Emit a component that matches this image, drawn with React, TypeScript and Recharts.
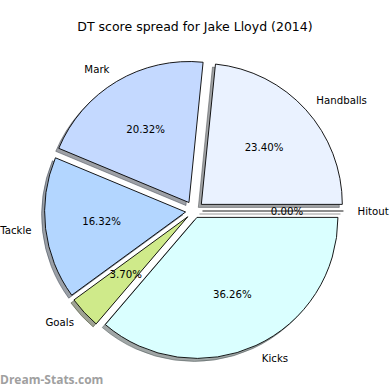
import { PieChart, Pie, Cell } from "recharts";

const categories = ["Hitout", "Handballs", "Mark", "Tackle", "Goals", "Kicks"];
const shares = [0, 23.4, 20.32, 16.32, 3.7, 36.26];
const sliceColors = ["#ffffff", "#eaf2ff", "#c4d9ff", "#b3d6ff", "#cfea8a", "#daffff"];

// how far each wedge is pulled out, as a fraction of the radius
const explode = [0.06, 0.07, 0.07, 0.06, 0.06, 0.05];

const W = 390;
const H = 390;
const CX = 194;
const CY = 211;
const R = 141;
const SHADOW = 3;
const RAD = Math.PI / 180;
const FONT = "'DejaVu Sans', Verdana, sans-serif";

const data = categories.map((name, i) => ({ name, value: shares[i] }));
const total = shares.reduce((a, b) => a + b, 0);

const midAngles = shares.map((v, i) => {
  const before = shares.slice(0, i).reduce((a, b) => a + b, 0);
  return ((before + v / 2) / total) * 360;
});

const shadowColor = (hex: string) => {
  const n = parseInt(hex.slice(1), 16);
  const r = Math.round(((n >> 16) & 255) * 0.3);
  const g = Math.round(((n >> 8) & 255) * 0.3);
  const b = Math.round((n & 255) * 0.3);
  return `rgb(${r},${g},${b})`;
};

const offsetFor = (i: number) => {
  const a = midAngles[i] * RAD;
  const d = explode[i] * R;
  return { dx: d * Math.cos(a), dy: -d * Math.sin(a) };
};

const SliceLabel = (props: any, i: number) => {
  if (props.index !== i) return null;
  const { cx, cy, midAngle, outerRadius } = props;
  const cos = Math.cos(midAngle * RAD);
  const sin = Math.sin(midAngle * RAD);
  const lx = cx + outerRadius * 1.1 * cos;
  const ly = cy - outerRadius * 1.1 * sin;
  const px = cx + outerRadius * 0.6 * cos;
  const py = cy - outerRadius * 0.6 * sin;
  const zero = shares[i] === 0;
  return (
    <g>
      {zero && (
        <>
          <line
            x1={cx - SHADOW}
            y1={cy + SHADOW}
            x2={cx - SHADOW + outerRadius * cos}
            y2={cy + SHADOW - outerRadius * sin}
            stroke="#999"
            strokeWidth={1}
          />
          <line
            x1={cx}
            y1={cy}
            x2={cx + outerRadius * cos}
            y2={cy - outerRadius * sin}
            stroke="#000"
            strokeWidth={0.9}
          />
        </>
      )}
      <text
        x={px}
        y={py}
        textAnchor="middle"
        dominantBaseline="central"
        fontSize={10.2}
        fontFamily={FONT}
        fill="#000"
      >
        {shares[i].toFixed(2)}%
      </text>
      <text
        x={lx}
        y={ly}
        textAnchor={cos >= 0 ? "start" : "end"}
        dominantBaseline="central"
        fontSize={10.2}
        fontFamily={FONT}
        fill="#000"
      >
        {categories[i]}
      </text>
    </g>
  );
};

export default function App() {
  return (
    <div style={{ position: "fixed", left: 0, top: 0, width: W, height: H, background: "#fff" }}>
      <div
        style={{
          position: "absolute",
          top: 19,
          width: W,
          textAlign: "center",
          fontFamily: FONT,
          fontSize: 12.5,
          color: "#000",
        }}
      >
        DT score spread for Jake Lloyd (2014)
      </div>
      <PieChart width={W} height={H} margin={{ top: 0, right: 0, bottom: 0, left: 0 }}>
        {categories.map((_, i) => {
          const { dx, dy } = offsetFor(i);
          return (
            <Pie
              key={`shadow-${i}`}
              data={data}
              dataKey="value"
              nameKey="name"
              cx={CX + dx - SHADOW}
              cy={CY + dy + SHADOW}
              outerRadius={R}
              startAngle={0}
              endAngle={360}
              isAnimationActive={false}
            >
              {data.map((d, j) => (
                <Cell
                  key={d.name}
                  fill={j === i ? shadowColor(sliceColors[j]) : "none"}
                  fillOpacity={0.5}
                  stroke={j === i ? shadowColor(sliceColors[j]) : "none"}
                  strokeOpacity={0.5}
                  strokeWidth={1}
                />
              ))}
            </Pie>
          );
        })}
        {categories.map((_, i) => {
          const { dx, dy } = offsetFor(i);
          return (
            <Pie
              key={`slice-${i}`}
              data={data}
              dataKey="value"
              nameKey="name"
              cx={CX + dx}
              cy={CY + dy}
              outerRadius={R}
              startAngle={0}
              endAngle={360}
              isAnimationActive={false}
              labelLine={false}
              label={(p: any) => SliceLabel(p, i)}
            >
              {data.map((d, j) => (
                <Cell
                  key={d.name}
                  fill={j === i ? sliceColors[j] : "none"}
                  stroke={j === i ? "#000" : "none"}
                  strokeWidth={0.9}
                />
              ))}
            </Pie>
          );
        })}
      </PieChart>
      <div
        style={{
          position: "absolute",
          left: 0,
          top: 371,
          fontFamily: "'Open Sans', sans-serif",
          fontSize: 12,
          fontWeight: "bold",
          color: "#a0a0a0",
        }}
      >
        Dream-Stats.com
      </div>
    </div>
  );
}
